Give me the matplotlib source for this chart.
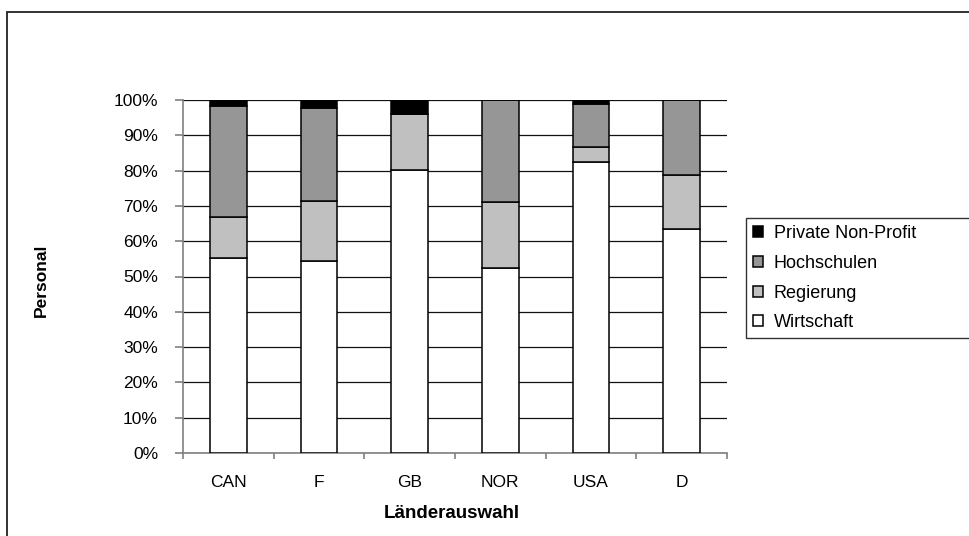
import matplotlib
matplotlib.use("Agg")
import matplotlib.pyplot as plt
from matplotlib.patches import Rectangle
from matplotlib.ticker import FixedLocator, PercentFormatter

# Anteile des FuE-Personals nach Sektoren (in %)
countries = ["CAN", "F", "GB", "NOR", "USA", "D"]
wirtschaft = [55.2, 54.3, 80.3, 52.3, 82.3, 63.4]
regierung = [11.6, 17.2, 15.8, 18.8, 4.3, 15.3]
hochschulen = [31.4, 26.3, 0.0, 28.9, 12.4, 21.3]
private_np = [1.8, 2.2, 3.9, 0.0, 1.0, 0.0]

sector_names = ["Wirtschaft", "Regierung", "Hochschulen", "Private Non-Profit"]
sector_colors = ["#ffffff", "#c0c0c0", "#969696", "#000000"]

W, H = 969, 536
plt.rcParams["font.family"] = ["Liberation Sans", "DejaVu Sans"]

fig = plt.figure(figsize=(W / 100, H / 100), dpi=100)
ax = fig.add_axes([183 / W, 1 - 453 / H, 544 / W, 353 / H])

x = list(range(len(countries)))
bottom = [0.0] * len(countries)
handles = []
for name, vals, col in zip(sector_names,
                           [wirtschaft, regierung, hochschulen, private_np],
                           sector_colors):
    b = ax.bar(x, vals, width=0.405, bottom=bottom, color=col,
               edgecolor="black", linewidth=1.1, label=name, zorder=3)
    handles.append(b)
    bottom = [s + v for s, v in zip(bottom, vals)]

ax.set_xlim(-0.5, len(countries) - 0.5)
ax.set_ylim(0, 100)
ax.set_yticks(range(0, 101, 10))
ax.yaxis.set_major_formatter(PercentFormatter(decimals=0))
ax.yaxis.grid(True, color="#111111", linewidth=0.9)
ax.set_axisbelow(True)

# Striche zwischen den Kategorien, Beschriftung in der Mitte
ax.xaxis.set_major_locator(FixedLocator([i - 0.5 for i in range(len(countries) + 1)]))
ax.xaxis.set_major_formatter(plt.NullFormatter())
ax.xaxis.set_minor_locator(FixedLocator(x))
ax.set_xticklabels(countries, minor=True)
ax.tick_params(axis="x", which="major", direction="out", length=4, color="#808080", width=1.2)
ax.tick_params(axis="x", which="minor", length=0, pad=16, labelsize=12.5)
ax.tick_params(axis="y", direction="out", length=6, color="#808080", width=1.2,
               pad=12, labelsize=12.5)

for side in ("top", "right"):
    ax.spines[side].set_visible(False)
for side in ("left", "bottom"):
    ax.spines[side].set_color("#808080")
    ax.spines[side].set_linewidth(1.2)

ax.set_xlabel("Länderauswahl", fontsize=13.5, fontweight="bold")
ax.xaxis.set_label_coords(452 / W, 1 - 514 / H, transform=fig.transFigure)
ax.xaxis.label.set_va("center")
ax.set_ylabel("Personal", fontsize=12.5, fontweight="bold")
ax.yaxis.set_label_coords(41 / W, 1 - 280 / H, transform=fig.transFigure)
ax.yaxis.label.set_va("center")

leg = fig.legend(handles[::-1], sector_names[::-1],
                 loc="upper left",
                 bbox_to_anchor=(746 / W, 0, 260 / W, 1 - 218 / H),
                 mode="expand", borderaxespad=0, fontsize=13,
                 frameon=True, fancybox=False, edgecolor="black",
                 handlelength=0.55, handleheight=0.55, handletextpad=0.6,
                 labelspacing=0.7, borderpad=0.4)
leg.get_frame().set_linewidth(1.0)

# Rahmen um die gesamte Grafik
fig.add_artist(Rectangle((7 / W, -0.05), 1.1, 1 - 12 / H + 0.05,
                         transform=fig.transFigure, fill=False,
                         edgecolor="#222222", linewidth=1.3))

fig.savefig("out.png", dpi=100)
